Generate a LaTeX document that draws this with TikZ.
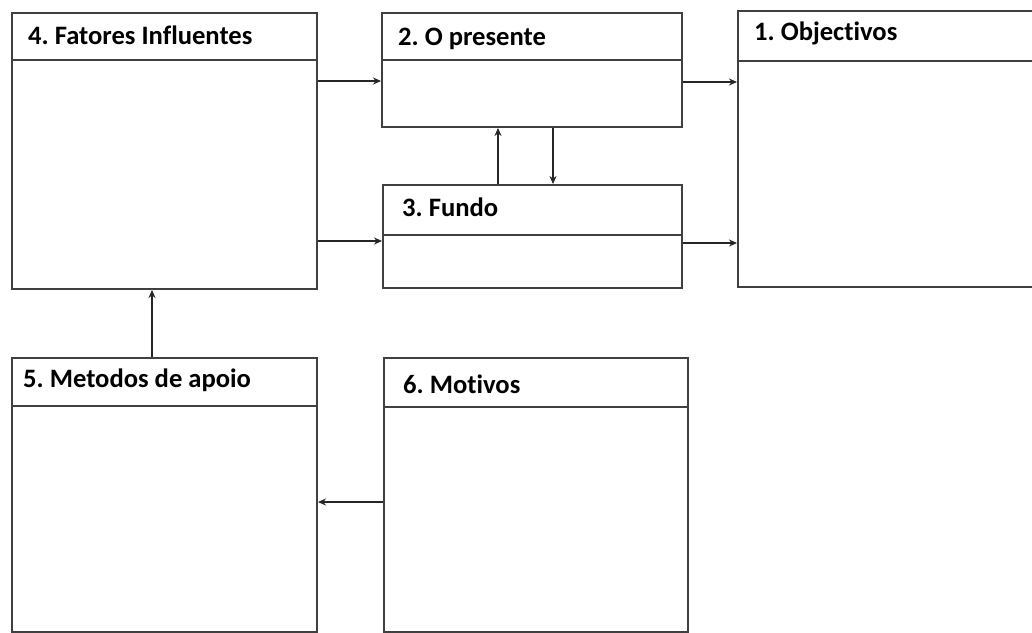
\documentclass[tikz,border=0pt]{standalone}
\usepackage{fontspec}
\setmainfont{Carlito}[Ligatures=NoCommon]
\usetikzlibrary{arrows.meta}
\frenchspacing
\begin{document}
\begin{tikzpicture}[x=1pt,y=-1pt,
  boxframe/.style={draw=black!75,line width=2pt,rectangle,anchor=north west,inner sep=0pt},
  hdr/.style={draw=black!75,line width=2pt},
  ttl/.style={anchor=base west,inner sep=0pt,font=\fontsize{26.6}{30}\selectfont\bfseries},
  arr/.style={draw=black!85,line width=2.8pt,-{Stealth[length=8pt,width=7pt]}}]
\useasboundingbox[fill=white] (0,0) rectangle (1032,632);
% boxes
\node[boxframe,minimum width=305pt,minimum height=276pt] (b4) at (11,12) {};
\node[boxframe,minimum width=300pt,minimum height=114pt] (b2) at (381,12) {};
\node[boxframe,minimum width=310pt,minimum height=276pt] (b1) at (737,10) {};
\node[boxframe,minimum width=299pt,minimum height=103pt] (b3) at (382,184) {};
\node[boxframe,minimum width=305pt,minimum height=274pt] (b5) at (11,357) {};
\node[boxframe,minimum width=304pt,minimum height=274pt] (b6) at (383,357) {};
% header lines
\draw[hdr] (b4.west |- 0,60) -- (b4.east |- 0,60);
\draw[hdr] (b2.west |- 0,60) -- (b2.east |- 0,60);
\draw[hdr] (b1.west |- 0,61) -- (b1.east |- 0,61);
\draw[hdr] (b3.west |- 0,235) -- (b3.east |- 0,235);
\draw[hdr] (b5.west |- 0,406) -- (b5.east |- 0,406);
\draw[hdr] (b6.west |- 0,407) -- (b6.east |- 0,407);
% titles
\node[ttl] (t4) at (28,44) {4. Fatores Influentes};
\node[ttl] (t2) at (398,45) {2. O presente};
\node[ttl] (t1) at (754,40) {1. Objectivos};
\node[ttl] (t3) at (402,216) {3. Fundo};
\node[ttl] (t5) at (23,387) {5. Metodos de apoio};
\node[ttl] (t6) at (403,393) {6. Motivos};
% arrows
\draw[arr] (b4.east |- 0,81) -- (b2.west |- 0,81);
\draw[arr] (b4.east |- 0,241) -- (b3.west |- 0,241);
\draw[arr] (b2.east |- 0,82) -- (b1.west |- 0,82);
\draw[arr] (b3.east |- 0,243) -- (b1.west |- 0,243);
\draw[arr] (b3.north -| 498,0) -- (b2.south -| 498,0);
\draw[arr] (b2.south -| 553,0) -- (b3.north -| 553,0);
\draw[arr] (b5.north -| 152,0) -- (b4.south -| 152,0);
\draw[arr] (b6.west |- 0,502) -- (b5.east |- 0,502);
\end{tikzpicture}
\end{document}
